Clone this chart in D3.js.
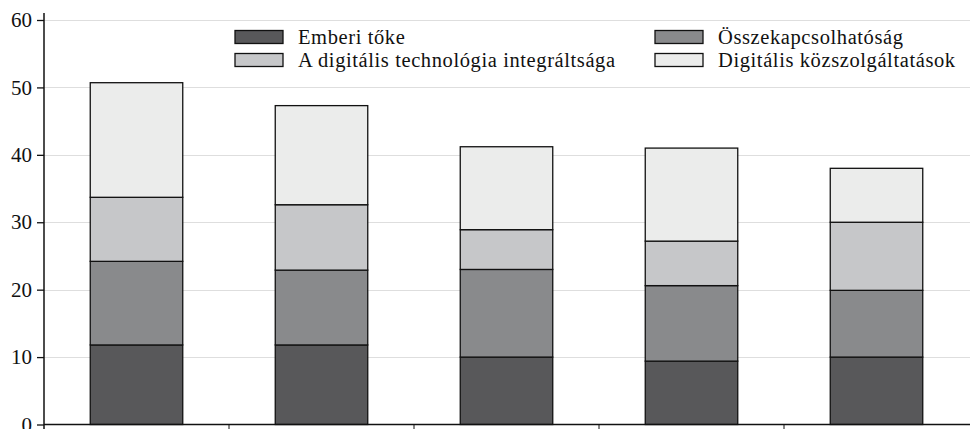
<!DOCTYPE html>
<html>
<head>
<meta charset="utf-8">
<script src="https://cdn.jsdelivr.net/npm/d3@7"></script>
<style>
  body { margin: 0; background: #fff; }
  svg text { font-family: "Liberation Serif", "Times New Roman", serif; }
</style>
</head>
<body>
<svg id="chart" width="970" height="429"></svg>
<script>
// data
var categories = ['A', 'B', 'C', 'D', 'E'];
var seriesNames = ['Emberi tőke', 'Összekapcsolhatóság', 'A digitális technológia integráltsága', 'Digitális közszolgáltatások'];
var humanCapital = [11.8, 11.8, 10.0, 9.4, 10.0];
var connectivity = [12.4, 11.1, 13.0, 11.2, 9.9];
var integration = [9.5, 9.7, 5.9, 6.6, 10.1];
var publicServices = [17.0, 14.7, 12.3, 13.8, 8.0];
var yTicks = [0, 10, 20, 30, 40, 50, 60];

var colors = ['#58585a', '#898a8c', '#c6c7c9', '#ebeceb'];

var svg = d3.select('#chart');
var svgWidth = +svg.attr('width');
var svgHeight = +svg.attr('height');

var padding = {t: 20, r: 1, b: 4.5, l: 44};

var rows = categories.map(function(c, i) {
    return {cat: c, s0: humanCapital[i], s1: connectivity[i], s2: integration[i], s3: publicServices[i]};
});
var stack = d3.stack().keys(['s0', 's1', 's2', 's3']);
var layers = stack(rows);

var x = d3.scaleBand()
    .domain(categories)
    .range([padding.l, svgWidth - padding.r])
    .paddingInner(0.5).paddingOuter(0.25);

var y = d3.scaleLinear()
    .domain([0, 60])
    .range([svgHeight - padding.b, padding.t]);

// gridlines
svg.append('g')
    .selectAll('line')
    .data(yTicks.filter(function(d) { return d > 0; }))
    .enter()
    .append('line')
    .attr('x1', padding.l)
    .attr('x2', svgWidth)
    .attr('y1', function(d) { return Math.round(y(d)) + 0.5; })
    .attr('y2', function(d) { return Math.round(y(d)) + 0.5; })
    .attr('stroke', '#dedede')
    .attr('stroke-width', 1);

// bars
svg.append('g')
    .selectAll('g')
    .data(layers)
    .enter()
    .append('g')
    .attr('fill', function(d, i) { return colors[i]; })
    .selectAll('rect')
    .data(function(d) { return d; })
    .enter()
    .append('rect')
    .attr('x', function(d) { return x(d.data.cat); })
    .attr('width', x.bandwidth())
    .attr('y', function(d) { return y(d[1]); })
    .attr('height', function(d) { return y(d[0]) - y(d[1]); })
    .attr('stroke', '#111')
    .attr('stroke-width', 1.3);

// y axis
var yAxis = svg.append('g')
    .attr('transform', 'translate(' + padding.l + ',0)')
    .call(d3.axisLeft(y).tickValues(yTicks).tickSize(7).tickPadding(5));
yAxis.attr('font-family', null);
yAxis.select('.domain').remove();
yAxis.selectAll('text')
    .attr('font-size', 21)
    .attr('fill', '#111');
yAxis.selectAll('line').attr('stroke', '#111').attr('stroke-width', 1.3);
yAxis.append('line')
    .attr('x1', 0).attr('x2', 0)
    .attr('y1', 13).attr('y2', svgHeight)
    .attr('stroke', '#111').attr('stroke-width', 1.5);

// x axis
var xAxisG = svg.append('g')
    .attr('transform', 'translate(0,' + y(0) + ')');
xAxisG.append('line')
    .attr('x1', padding.l).attr('x2', svgWidth)
    .attr('y1', 0).attr('y2', 0)
    .attr('stroke', '#111').attr('stroke-width', 1.3);
var boundaries = categories.slice(1).map(function(c) {
    return x(c) - x.step() * x.paddingInner() / 2;
});
xAxisG.selectAll('line.tick')
    .data(boundaries)
    .enter()
    .append('line')
    .attr('class', 'tick')
    .attr('x1', function(d) { return d; })
    .attr('x2', function(d) { return d; })
    .attr('y1', 0).attr('y2', 8)
    .attr('stroke', '#111').attr('stroke-width', 1);

// legend
var legendPos = [[235, 30.5], [655, 30.5], [235, 53.5], [655, 53.5]];
var legendOrder = [0, 1, 2, 3];
var legend = svg.append('g')
    .selectAll('g')
    .data(legendOrder)
    .enter()
    .append('g')
    .attr('transform', function(d, i) { return 'translate(' + legendPos[i][0] + ',' + legendPos[i][1] + ')'; });
legend.append('rect')
    .attr('width', 48).attr('height', 13)
    .attr('fill', function(d) { return colors[d]; })
    .attr('stroke', '#111').attr('stroke-width', 1.3);
legend.append('text')
    .attr('x', 63).attr('y', 13.5)
    .attr('font-size', 20.5)
    .attr('letter-spacing', 0.6)
    .attr('fill', '#111')
    .text(function(d) { return seriesNames[d]; });
</script>
</body>
</html>
